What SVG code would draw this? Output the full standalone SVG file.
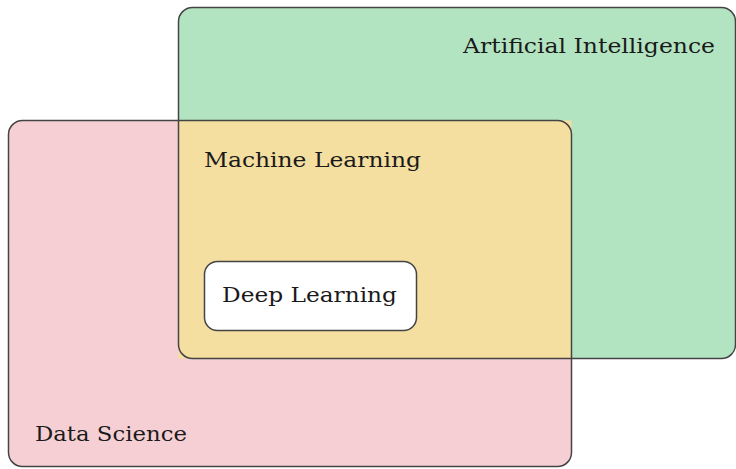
<svg xmlns="http://www.w3.org/2000/svg" width="736" height="469" viewBox="0 0 736 469">
<style>
.lbl{font-family:"DejaVu Serif","Liberation Serif",serif;font-size:20px;fill:#1a1a1a;}
.edge{fill:none;stroke:#444;stroke-width:1.5;}
</style>
<rect width="736" height="469" fill="#ffffff"/>
<g id="data-science">
<rect x="8.5" y="120.5" width="563" height="346" rx="14" fill="#f6cfd4"/>
</g>
<g id="artificial-intelligence">
<rect x="178.5" y="7.5" width="557" height="351" rx="14" fill="#b3e4c1"/>
</g>
<g id="machine-learning">
<rect x="178.5" y="120.5" width="393" height="238" fill="#f4dea0"/>
</g>
<g id="outlines">
<rect class="edge" x="8.5" y="120.5" width="563" height="346" rx="14"/>
<rect class="edge" x="178.5" y="7.5" width="557" height="351" rx="14"/>
</g>
<g id="deep-learning">
<rect x="204.5" y="261.5" width="212" height="69" rx="13" fill="#ffffff" stroke="#444" stroke-width="1.5"/>
<text class="lbl" x="222" y="302" textLength="175" lengthAdjust="spacingAndGlyphs">Deep Learning</text>
</g>
<g id="labels">
<text class="lbl" x="463" y="53" textLength="252" lengthAdjust="spacingAndGlyphs">Artificial Intelligence</text>
<text class="lbl" x="204" y="167" textLength="217" lengthAdjust="spacingAndGlyphs">Machine Learning</text>
<text class="lbl" x="35" y="441" textLength="152" lengthAdjust="spacingAndGlyphs">Data Science</text>
</g>
</svg>
